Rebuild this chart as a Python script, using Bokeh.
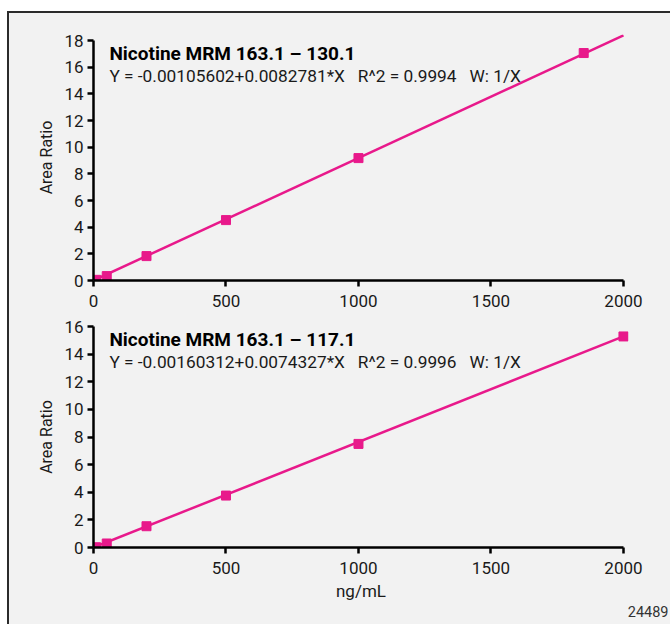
from bokeh.plotting import figure
from bokeh.layouts import column, row
from bokeh.models import Label, Range1d, Div, Spacer, FixedTicker, Title
from bokeh.embed import file_html
from bokeh.resources import INLINE

# ---- data ----
conc_top = [10, 50, 200, 500, 1000, 1850]
ratio_top = [0.05, 0.33, 1.83, 4.53, 9.18, 17.06]
fit_x_top = [0, 2000]
fit_y_top = [0.0, 18.38]
title_top = "Nicotine MRM 163.1 \u2013 130.1"
eq_top = "Y = -0.00105602+0.0082781*X\u00a0\u00a0\u00a0R^2 = 0.9994\u00a0\u00a0\u00a0W: 1/X"

conc_bot = [10, 50, 200, 500, 1000, 2000]
ratio_bot = [0.02, 0.29, 1.54, 3.76, 7.5, 15.28]
fit_x_bot = [0, 2000]
fit_y_bot = [0.0, 15.28]
title_bot = "Nicotine MRM 163.1 \u2013 117.1"
eq_bot = "Y = -0.00160312+0.0074327*X\u00a0\u00a0\u00a0R^2 = 0.9996\u00a0\u00a0\u00a0W: 1/X"

x_ticks = [0, 500, 1000, 1500, 2000]
y_ticks_top = [0, 2, 4, 6, 8, 10, 12, 14, 16, 18]
y_ticks_bot = [0, 2, 4, 6, 8, 10, 12, 14, 16]
x_label = "ng/mL"
y_label = "Area Ratio"
fig_id = "24489"

FONT = "Roboto"
PINK = "#e8198b"
BG = "#f2f2f2"
INK = "#1a1a1a"


def make_panel(xs, ys, fx, fy, ticks_y, y_end, y_bound, title, eq,
               frame_h, top_b, bot_b, show_xlabel):
    p = figure(frame_width=535, frame_height=frame_h,
               x_range=Range1d(0, 2019), y_range=Range1d(0, y_end),
               output_backend="svg", toolbar_location=None,
               min_border_left=84, min_border_right=42,
               min_border_top=top_b, min_border_bottom=bot_b)
    p.background_fill_color = BG
    p.border_fill_color = BG
    p.outline_line_color = None
    p.grid.visible = False

    for ax in (p.xaxis[0], p.yaxis[0]):
        ax.axis_line_width = 2.5
        ax.axis_line_color = "black"
        ax.major_tick_line_width = 2.5
        ax.major_tick_line_color = "black"
        ax.major_tick_in = 0
        ax.major_tick_out = 6
        ax.minor_tick_line_color = None
        ax.major_label_text_font = FONT
        ax.major_label_text_font_size = "17px"
        ax.major_label_text_color = INK
        ax.major_label_standoff = 4
        ax.axis_label_text_font = FONT
        ax.axis_label_text_font_size = "16px"
        ax.axis_label_text_font_style = "normal"
        ax.axis_label_text_color = INK

    p.xaxis[0].ticker = FixedTicker(ticks=x_ticks)
    p.xaxis[0].bounds = (0, 2000)
    p.xaxis[0].major_label_standoff = 8
    p.yaxis[0].ticker = FixedTicker(ticks=ticks_y)
    p.yaxis[0].bounds = (0, y_bound)
    p.yaxis[0].axis_label = y_label
    p.yaxis[0].axis_label_standoff = 5
    if show_xlabel:
        p.xaxis[0].axis_label = x_label
        p.xaxis[0].axis_label_standoff = 4
        p.xaxis[0].axis_label_text_font_size = "17px"

    p.line(fx, fy, line_color=PINK, line_width=2.5)
    p.scatter(xs, ys, marker="square", size=9, fill_color=PINK,
              line_color=PINK)

    px_per_unit = frame_h / y_end
    p.add_layout(Label(x=60, y=y_bound - 12.5 / px_per_unit, text=title,
                       text_font=FONT, text_font_size="19px",
                       text_font_style="bold", text_color="black",
                       text_baseline="alphabetic"))
    p.add_layout(Label(x=60, y=y_bound - 35.3 / px_per_unit, text=eq,
                       text_font=FONT, text_font_size="17.3px",
                       text_color=INK, text_baseline="alphabetic"))
    return p


p1 = make_panel(conc_top, ratio_top, fit_x_top, fit_y_top, y_ticks_top,
                18.45, 18, title_top, eq_top, 246, 21, 36, False)
p2 = make_panel(conc_bot, ratio_bot, fit_x_bot, fit_y_bot, y_ticks_bot,
                16, 16, title_bot, eq_bot, 221, 10, 77, True)
p2.add_layout(Title(text=fig_id, align="right", offset=-40, standoff=0,
                    text_font=FONT, text_font_size="14.5px",
                    text_font_style="normal", text_color="#333333"),
              "below")

left_border = Div(width=2, height=613, margin=0,
                  styles={"background-color": "#2b2b2b"})
top_border = Div(width=661, height=2, margin=0,
                 styles={"background-color": "#2b2b2b"})

layout = column(
    Spacer(width=670, height=11, margin=0),
    row(Spacer(width=7, height=613, margin=0), left_border,
        column(top_border, p1, p2, spacing=0,
               styles={"background-color": BG}), spacing=0),
    spacing=0,
)

open("out.html", "w").write(file_html(layout, INLINE))
